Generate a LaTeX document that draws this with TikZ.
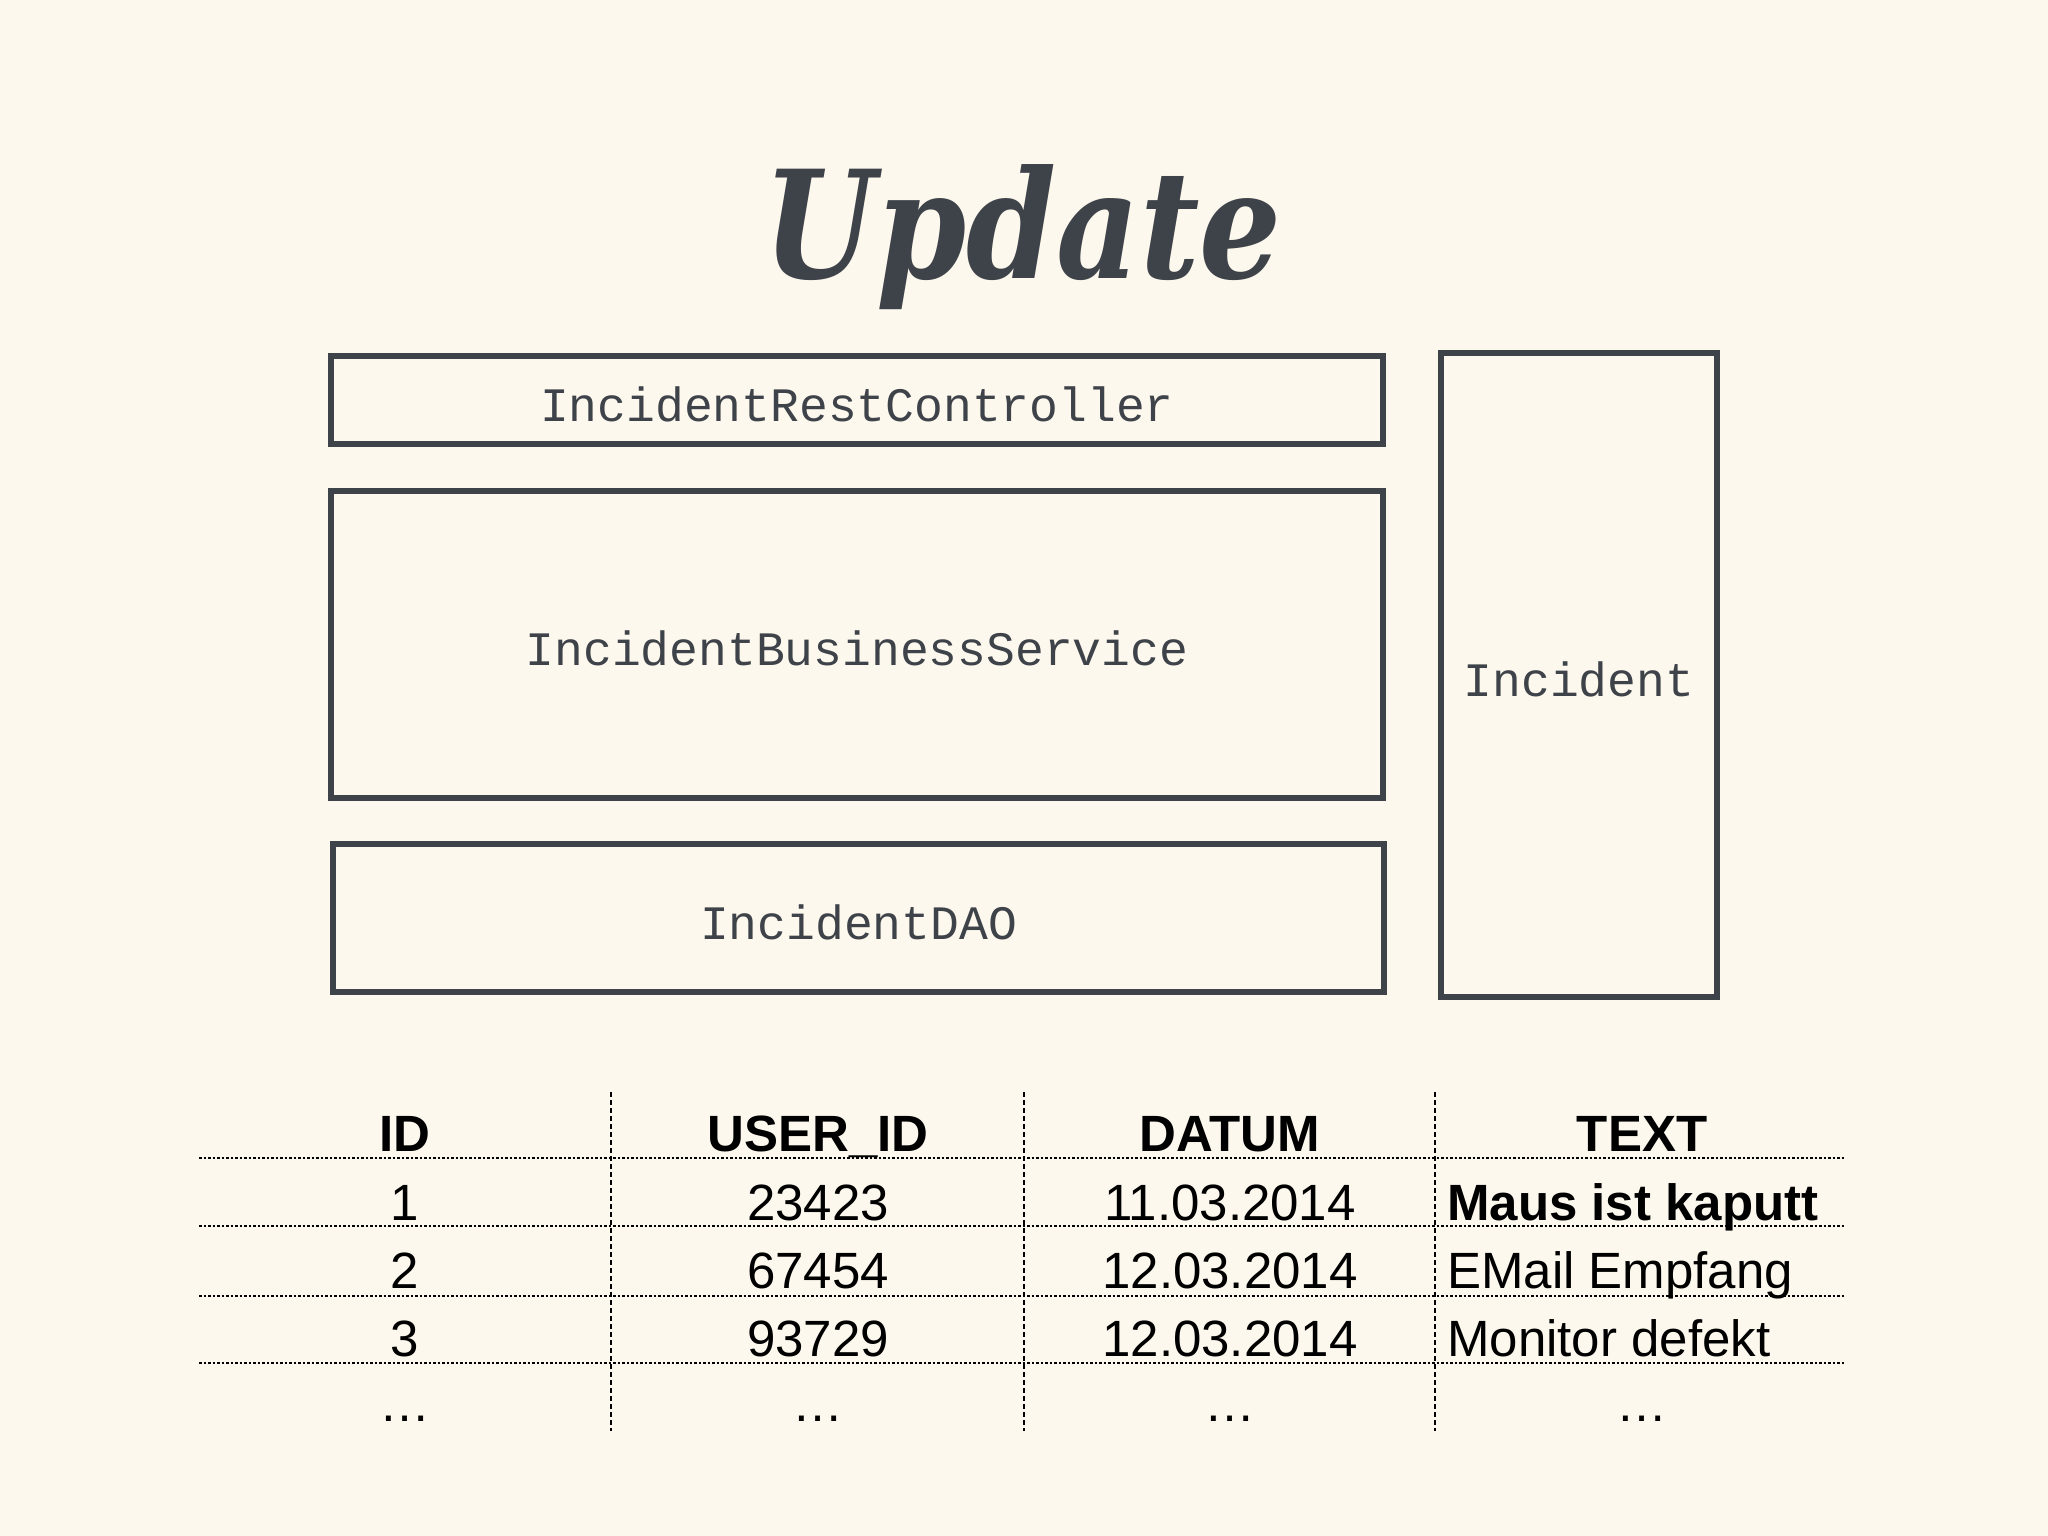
\documentclass[tikz,border=0pt]{standalone}
\usepackage{fontspec}
\newfontfamily\titlefont{DejaVu Serif}
\newfontfamily\classfont{Liberation Mono}
\newfontfamily\tablefont{Liberation Sans}
\definecolor{slideback}{RGB}{253,248,238}
\definecolor{slidegray}{RGB}{62,66,73}

\tikzset{
  layer/.style={draw=slidegray,line width=6pt,inner sep=0pt,text=slidegray,
    text height=42pt,text depth=0pt,
    font=\classfont\fontsize{48}{52}\selectfont},
  cell/.style={anchor=base,inner sep=0pt,font=\tablefont\fontsize{51}{55}\selectfont},
  headcell/.style={cell,font=\tablefont\bfseries\fontsize{51}{55}\selectfont},
  rowrule/.style={line width=2.5pt,dash pattern=on 2.5pt off 2pt},
  colrule/.style={line width=1.5pt,dash pattern=on 5pt off 3pt},
}

\begin{document}
\begin{tikzpicture}[x=1pt,y=-1pt]
\fill[slideback] (0,0) rectangle (2048,1536);
\useasboundingbox (0,0) rectangle (2048,1536);

\node[anchor=base,text=slidegray,xscale=0.86,
  font=\titlefont\bfseries\itshape\fontsize{150}{160}\selectfont]
  (title) at (1023,278) {Update};

% layers
\node[layer,minimum width=1052pt,minimum height=88pt] (controller) at (857,400) {IncidentRestController};
\node[layer,minimum width=1052pt,minimum height=307pt] (service) at (857,644.5) {IncidentBusinessService};
\node[layer,minimum width=1051pt,minimum height=148pt] (dao) at (858.5,918) {IncidentDAO};
\node[layer,minimum width=276pt,minimum height=644pt] (entity) at (1579,675) {Incident};

% table
\node[headcell] (h-id) at (405,1151) {ID};
\node[headcell] (h-user) at (818,1151) {USER\_ID};
\node[headcell] (h-datum) at (1230,1151) {DATUM};
\node[headcell] (h-text) at (1642,1151) {TEXT};

\foreach \i/\uid/\dat/\txt in {1/23423/11.03.2014/{\bfseries Maus ist kaputt},
    2/67454/12.03.2014/{EMail Empfang}, 3/93729/12.03.2014/{Monitor defekt}}{
  \node[cell] (id-\i) at (405,{1220+68*(\i-1)}) {\i};
  \node[cell] (user-\i) at (818,{1220+68*(\i-1)}) {\uid};
  \node[cell] (datum-\i) at (1230,{1220+68*(\i-1)}) {\dat};
  \node[cell,anchor=base west] (text-\i) at (1447,{1220+68*(\i-1)}) {\txt};
}

\node[cell] (more-id) at (405,1421) {\ldots};
\node[cell] (more-user) at (818,1421) {\ldots};
\node[cell] (more-datum) at (1230,1421) {\ldots};
\node[cell] (more-text) at (1642,1421) {\ldots};

\foreach \y in {1158,1226,1296,1363}
  \draw[rowrule] (199,\y) -- (1844,\y);
\foreach \x in {611,1024,1435}
  \draw[colrule] (\x,1092) -- (\x,1431);
\end{tikzpicture}
\end{document}
